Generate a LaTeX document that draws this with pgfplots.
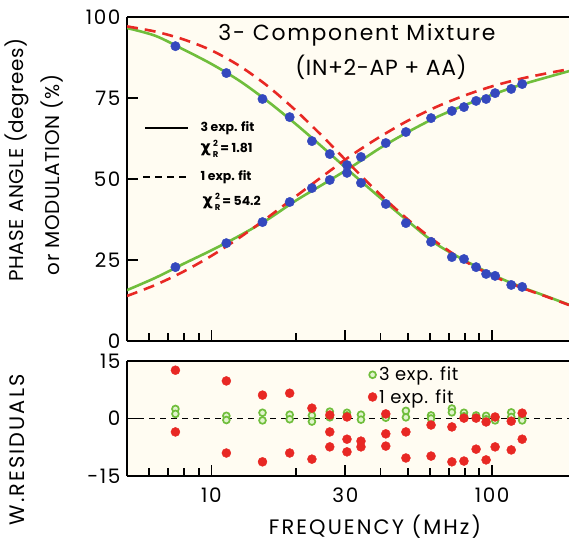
\documentclass[border=0pt]{standalone}
\usepackage{pgfplots}
\usepackage{pgfplotstable}
\pgfplotsset{compat=1.18}
\usepackage{fontspec}
\setmainfont{Poppins}
\newfontfamily\dejavu{DejaVu Sans}
\definecolor{cblue}{RGB}{52,72,190}
\definecolor{cgreen}{RGB}{112,190,60}
\definecolor{cred}{RGB}{232,40,36}
\definecolor{cbg}{RGB}{255,252,242}
\definecolor{cgfill}{RGB}{225,244,205}

% measured data points: frequency (MHz), phase (deg), modulation (%)
\pgfplotstableread{
f phase mod
7.44 22.8 91.0
11.3 30.2 82.7
15.2 36.7 74.7
19.0 42.9 69.1
22.8 47.2 61.7
26.4 49.7 57.7
30.4 51.9 54.3
34.1 56.8 48.8
41.8 61.1 42.3
49.3 64.5 36.4
60.6 68.8 30.6
71.9 71.0 25.9
79.4 72.2 25.3
87.7 74.1 22.8
95.2 74.7 20.7
102.5 76.5 20.1
117 77.8 17.3
128 79.3 16.7
}\datatab

% 3 exp. fit curve
\pgfplotstableread{
f phase mod
5 15.7 96.6
6.31 19.5 94.2
7.94 23.8 90.0
10 28.0 85.5
12.59 32.5 80.3
15.85 37.5 74.0
19.95 43.3 67.0
25.12 48.5 59.5
31.62 53.8 51.8
39.81 59.5 44.3
50.12 64.5 37.0
63.1 69.0 30.0
79.4 72.7 25.0
100 76.0 20.5
125.9 79.0 16.8
158.5 81.5 13.6
188 83.3 11.2
}\greentab

% 1 exp. fit curve
\pgfplotstableread{
f phase mod
5 13.9 97.1
6.31 17.3 95.5
7.94 21.4 93.1
10 26.3 89.7
12.59 31.9 84.9
15.85 38.1 78.7
19.95 44.6 71.2
25.12 51.1 62.8
31.62 57.4 53.9
39.81 63.0 45.3
50.12 68.0 37.5
63.1 72.2 30.6
79.4 75.7 24.8
100 78.6 20.2
125.9 80.9 16.6
158.5 82.7 13.5
188 83.9 11.1
}\redtab

% weighted residuals, 3 exp. fit
\pgfplotstableread{
f r
7.44 2.5
7.44 1.2
11.3 0.7
11.3 -0.4
15.2 1.5
15.2 -0.5
19.0 1.0
19.0 -0.2
22.8 0.8
22.8 -0.8
26.4 1.8
26.4 0.3
30.4 1.5
30.4 0.8
34.1 1.0
34.1 -0.3
41.8 0.6
41.8 0.2
49.3 2.0
49.3 0.3
60.6 0.8
60.6 0.0
71.9 2.6
71.9 1.6
79.4 1.5
79.4 0.6
87.7 0.8
87.7 0.2
95.2 0.7
95.2 -0.2
102.5 0.2
102.5 -0.5
117 1.6
117 0.4
128 0.2
128 -0.5
}\gres

% weighted residuals, 1 exp. fit
\pgfplotstableread{
f r
7.44 12.6
7.44 -3.5
11.3 9.8
11.3 -9.0
15.2 6.1
15.2 -11.3
19.0 6.6
19.0 -9.0
22.8 2.7
22.8 -10.6
26.4 0.9
26.4 -3.5
26.4 -7.4
30.4 0.4
30.4 -5.4
30.4 -8.7
34.1 -5.9
34.1 -7.4
41.8 1.2
41.8 -4.0
41.8 -7.2
49.3 -3.5
49.3 -10.3
60.6 -1.7
60.6 -9.8
71.9 -2.2
71.9 -11.3
79.4 0.1
79.4 -11.1
87.7 0.1
87.7 -8.0
95.2 -0.9
95.2 -10.8
102.5 0.4
102.5 -7.4
117 -0.7
117 -8.2
128 1.4
128 -5.4
}\rres

\newcommand\lab{\fontsize{21}{24}\selectfont\addfontfeatures{LetterSpace=10}}
\newcommand\chiR{{\dejavu\bfseries\fontsize{16}{18}\selectfont χ}\kern2bp\raisebox{-5bp}{\fontsize{8.5}{11}\selectfont\bfseries\begin{tabular}[b]{@{}c@{}}2\\R\end{tabular}}}

\pgfplotsset{
  myframe/.style={
    scale only axis, width=442bp, xmin=5, xmax=188,
    axis x line*=box, axis y line*=left,
    axis line style={line width=2.2bp, black},
    axis background/.style={fill=cbg},
    xtick={10,30,100}, minor xtick={6,7,8,9,20,40,50,60,70,80,90},
    xtick pos=bottom, ytick pos=left, tick align=inside,
    major tick length=11bp, minor tick length=8bp,
    every tick/.style={black, line width=1.8bp},
    every minor tick/.style={black, line width=1.8bp},
    tick label style={font=\fontsize{20}{24}\selectfont\addfontfeatures{LetterSpace=8}},
    /pgf/number format/assume math mode=true,
    yticklabel style={xshift=-3bp},
  }
}

\begin{document}
\begin{tikzpicture}
\useasboundingbox (0,0) rectangle (569bp,-543bp);

\begin{axis}[xmode=log, myframe, at={(127bp,-341bp)}, anchor=south west, height=324bp,
  ymin=0, ymax=100, ytick={0,25,50,75,100}, xticklabels={}]
\addplot[cgreen, line width=2.6bp, smooth] table[x=f,y=phase]{\greentab};
\addplot[cgreen, line width=2.6bp, smooth] table[x=f,y=mod]{\greentab};
\addplot[cred, line width=2.6bp, dash pattern=on 11bp off 7bp, smooth] table[x=f,y=phase]{\redtab};
\addplot[cred, line width=2.6bp, dash pattern=on 11bp off 7bp, smooth] table[x=f,y=mod]{\redtab};
\addplot[only marks, mark=*, mark size=4.7bp, cblue] table[x=f,y=phase]{\datatab};
\addplot[only marks, mark=*, mark size=4.7bp, cblue] table[x=f,y=mod]{\datatab};
\end{axis}

\begin{axis}[xmode=log, myframe, at={(127bp,-476bp)}, anchor=south west, height=115bp,
  ymin=-15, ymax=15, ytick={-15,0,15}, yticklabels={-15,0,15},
  xticklabels={10,30,100},
  xticklabel style={yshift=-8bp},
  legend style={at={(0.545,1.0)}, anchor=north west, yshift=-4bp, draw=none, fill=none,
    font=\fontsize{18}{20}\selectfont\addfontfeatures{LetterSpace=4}, inner sep=0pt, row sep=3bp,
    /tikz/every even column/.append style={column sep=5bp}},
  legend cell align=left]
\addplot[black, line width=1.3bp, dash pattern=on 6bp off 5bp, forget plot] coordinates {(5,0) (188,0)};
\addplot[only marks, mark=*, mark size=3.4bp, draw=cgreen, fill=cgfill, mark options={line width=1.7bp}] table[x=f,y=r]{\gres};
\addlegendentry{3 exp. fit}
\addplot[only marks, mark=*, mark size=4.5bp, cred] table[x=f,y=r]{\rres};
\addlegendentry{1 exp. fit}
\end{axis}

% titles
\node[font=\fontsize{22}{26}\selectfont\addfontfeatures{LetterSpace=8}] at (357bp,-35bp) {3- Component Mixture};
\node[font=\fontsize{22}{26}\selectfont\addfontfeatures{LetterSpace=3}] at (381bp,-67bp) {(IN+2-AP + AA)};

% line legend in top panel
\draw[black, line width=1.8bp] (145bp,-128bp) -- (188bp,-128bp);
\node[anchor=west, font=\fontsize{12.5}{14}\selectfont\bfseries] at (197bp,-128bp) {3 exp. fit};
\node[anchor=west, font=\fontsize{12.5}{14}\selectfont\bfseries] at (197bp,-150bp) {\chiR\,= 1.81};
\draw[black, line width=1.8bp, dash pattern=on 7bp off 5bp] (143bp,-177bp) -- (190bp,-177bp);
\node[anchor=west, font=\fontsize{12.5}{14}\selectfont\bfseries] at (197bp,-177bp) {1 exp. fit};
\node[anchor=west, font=\fontsize{12.5}{14}\selectfont\bfseries] at (199bp,-203bp) {\chiR\,= 54.2};

% axis labels
\node[rotate=90, font=\fontsize{20}{24}\selectfont\addfontfeatures{LetterSpace=3}] at (17bp,-160bp) {PHASE ANGLE (degrees)};
\node[rotate=90, font=\fontsize{20}{24}\selectfont\addfontfeatures{LetterSpace=3}] at (52bp,-175bp) {or MODULATION (\%)};
\node[rotate=90, font=\lab] at (17bp,-450bp) {W.RESIDUALS};
\node[font=\lab] at (375bp,-527bp) {FREQUENCY (MHz)};
\end{tikzpicture}
\end{document}
